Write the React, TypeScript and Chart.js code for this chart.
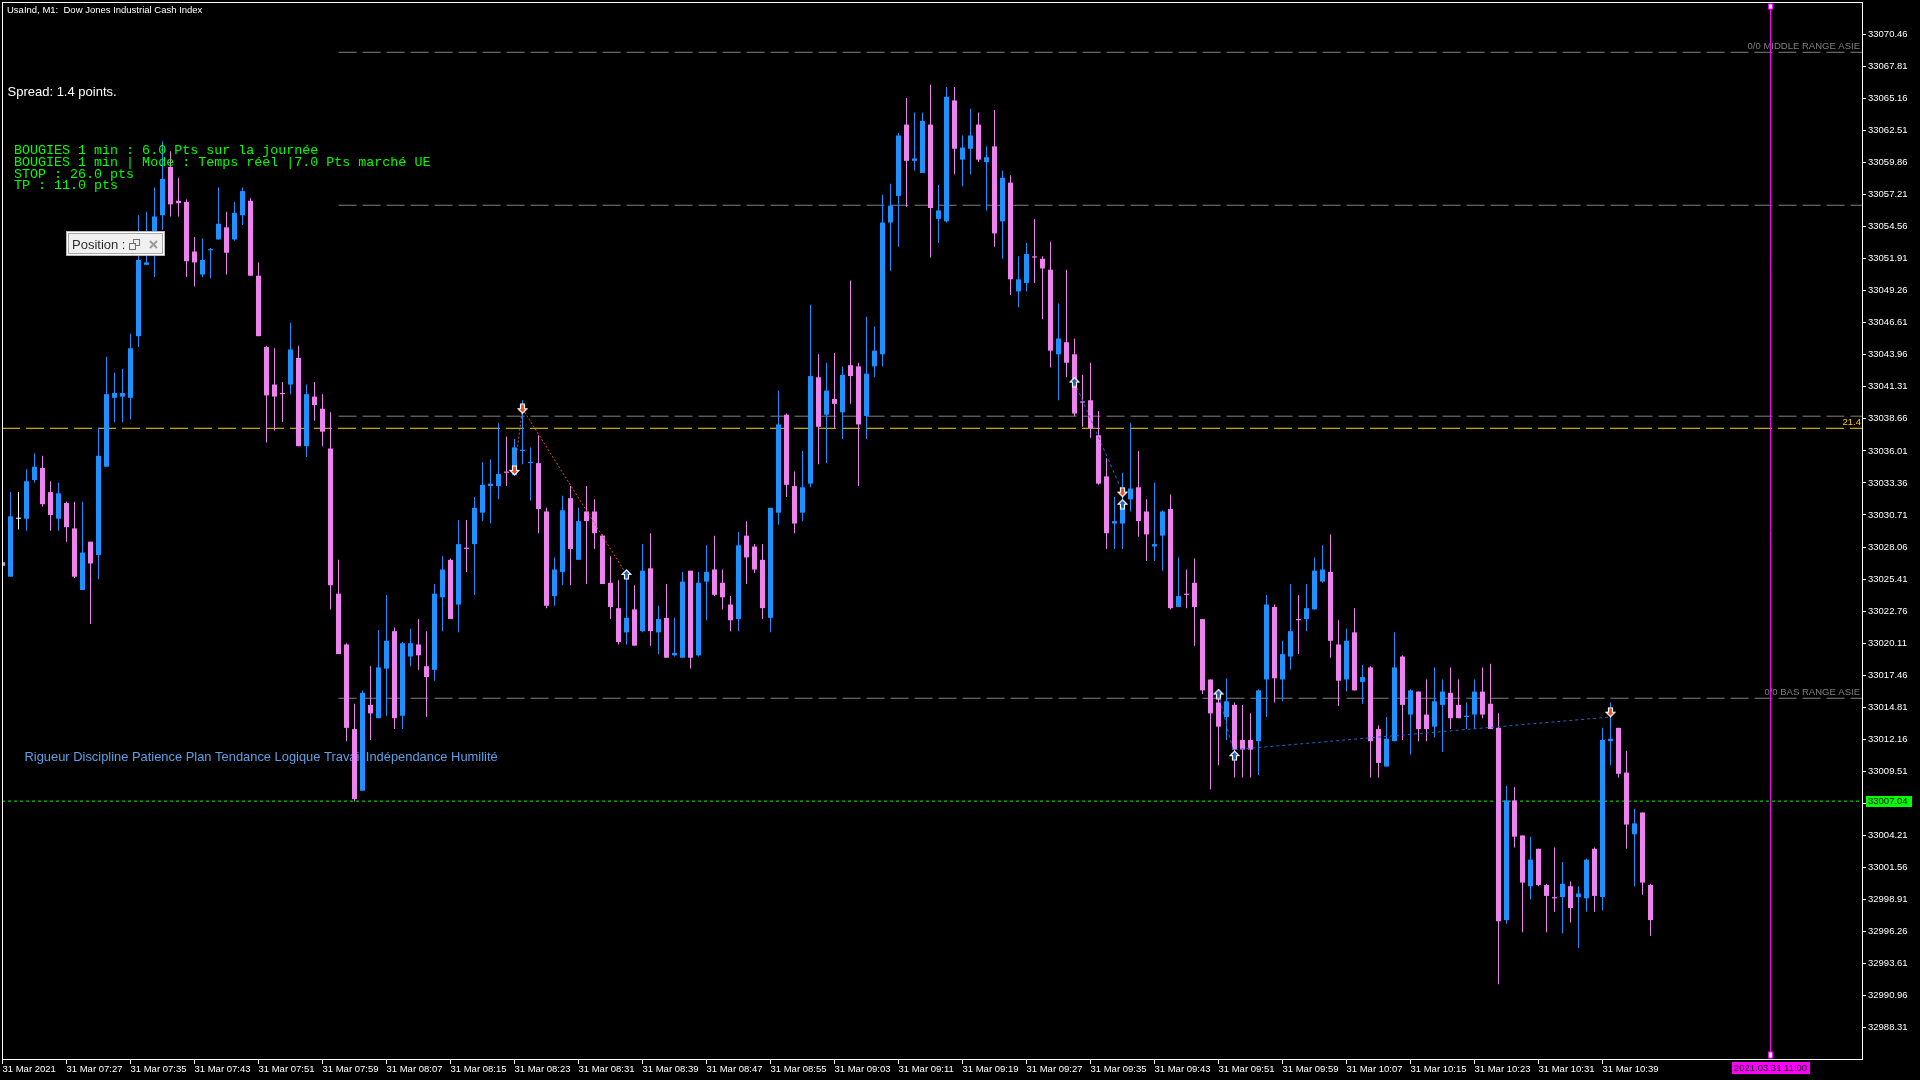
import React, { useEffect, useRef } from "react";
import { Chart, registerables } from "chart.js";

Chart.register(...registerables);

// ---- OHLC, one bar per minute, 31 Mar 2021 07:19 -> 10:45 (bar index 0..206) ----
const opens = [
  33026.8, 33025.6, 33030.4, 33030.4, 33033.6, 33034.6, 33032.6, 33030.4, 33031.7, 33029.6,
  33024.5, 33028.5, 33027.4, 33034.7, 33040.4, 33040.5, 33040.4, 33045.5, 33051.4, 33053.7,
  33055.5, 33059.5, 33056.7, 33056.6, 33052.5, 33050.6, 33052.6, 33053.5, 33054.5, 33053.5,
  33055.5, 33056.7, 33050.5, 33044.6, 33041.5, 33040.8, 33041.5, 33043.7, 33036.4, 33040.5,
  33039.5, 33036.2, 33024.2, 33020.0, 33013.0, 33007.9, 33015.0, 33013.9, 33018.0, 33021.1,
  33014.1, 33019.0, 33020.0, 33018.2, 33017.9, 33023.9, 33027.0, 33023.3, 33028.0, 33028.3,
  33030.9, 33033.1, 33033.1, 33034.3, 33034.0, 33036.0, 33035.0, 33035.0, 33031.0, 33024.0,
  33026.0, 33032.1, 33027.0, 33031.0, 33031.0, 33029.0, 33025.1, 33023.0, 33021.0, 33022.9,
  33021.1, 33026.3, 33021.0, 33022.2, 33019.1, 33018.9, 33026.1, 33019.1, 33025.2, 33026.2,
  33025.1, 33023.3, 33022.1, 33029.0, 33028.1, 33027.0, 33022.2, 33030.9, 33039.0, 33033.1,
  33030.9, 33033.3, 33042.1, 33039.0, 33040.3, 33039.2, 33043.1, 33043.0, 33038.9, 33043.0,
  33044.0, 33054.9, 33057.1, 33063.0, 33060.0, 33059.0, 33063.0, 33055.2, 33055.0, 33065.0,
  33060.1, 33061.0, 33063.0, 33059.9, 33061.2, 33055.0, 33058.2, 33049.2, 33049.9, 33052.1,
  33051.9, 33051.0, 33044.0, 33045.0, 33044.0, 33040.1, 33040.2, 33037.3, 33033.9, 33030.0,
  33030.0, 33032.0, 33033.0, 33031.0, 33028.1, 33029.0, 33031.2, 33023.1, 33024.2, 33025.1,
  33022.1, 33017.1, 33015.2, 33014.0, 33015.0, 33012.1, 33012.1, 33012.0, 33017.1, 33023.1,
  33017.1, 33019.0, 33022.1, 33022.1, 33022.9, 33025.2, 33026.0, 33020.0, 33017.1, 33021.0,
  33016.9, 33018.1, 33013.0, 33009.9, 33012.0, 33019.0, 33014.2, 33016.1, 33014.2, 33013.2,
  33015.0, 33016.0, 33015.0, 33014.0, 33014.2, 33016.1, 33015.1, 33013.1, 32997.2, 33007.1,
  33004.2, 33000.0, 33003.1, 33000.1, 32999.1, 32999.1, 33000.0, 32999.1, 32999.0, 33003.1,
  32999.1, 33012.0, 33013.1, 33009.4, 33004.3, 33006.1, 33000.1,
];
const highs = [
  33026.9, 33032.6, 33032.6, 33034.5, 33035.8, 33035.6, 33033.5, 33033.4, 33031.8, 33031.8,
  33031.8, 33028.5, 33037.9, 33043.8, 33042.5, 33042.8, 33045.7, 33055.5, 33055.8, 33057.8,
  33061.6, 33060.8, 33058.6, 33056.8, 33053.7, 33053.6, 33052.8, 33057.8, 33055.8, 33056.6,
  33057.8, 33056.9, 33051.6, 33044.7, 33044.5, 33041.7, 33046.6, 33044.7, 33041.5, 33041.7,
  33040.7, 33039.2, 33027.0, 33020.1, 33015.1, 33016.2, 33018.2, 33021.2, 33024.1, 33021.4,
  33020.2, 33021.3, 33022.1, 33021.1, 33025.0, 33027.3, 33027.1, 33030.3, 33030.3, 33032.2,
  33035.1, 33035.3, 33038.3, 33037.2, 33037.0, 33040.2, 33036.3, 33037.3, 33031.3, 33027.2,
  33032.3, 33033.1, 33031.3, 33033.1, 33032.0, 33029.1, 33027.3, 33025.3, 33025.6, 33024.9,
  33028.3, 33029.2, 33023.2, 33025.0, 33022.2, 33026.0, 33026.1, 33026.0, 33028.2, 33029.0,
  33026.2, 33024.0, 33029.3, 33030.2, 33028.3, 33028.3, 33031.3, 33041.0, 33039.1, 33034.3,
  33036.0, 33048.1, 33044.0, 33043.3, 33044.1, 33043.0, 33050.1, 33043.3, 33047.1, 33046.3,
  33057.2, 33058.1, 33062.3, 33065.2, 33064.0, 33064.0, 33066.3, 33058.0, 33066.1, 33066.1,
  33062.1, 33064.3, 33064.0, 33061.2, 33064.2, 33059.2, 33058.8, 33052.1, 33053.2, 33055.2,
  33052.1, 33053.3, 33048.2, 33051.0, 33045.3, 33042.3, 33043.3, 33039.3, 33035.4, 33032.2,
  33034.2, 33038.3, 33036.0, 33032.0, 33033.4, 33031.1, 33032.4, 33027.2, 33026.2, 33027.1,
  33022.1, 33017.1, 33016.3, 33017.2, 33015.2, 33015.0, 33014.3, 33016.3, 33024.1, 33023.3,
  33020.3, 33025.0, 33024.1, 33025.0, 33027.2, 33028.2, 33029.1, 33022.0, 33021.3, 33023.0,
  33018.3, 33018.2, 33013.3, 33014.0, 33021.0, 33019.1, 33016.3, 33016.1, 33017.1, 33018.1,
  33017.1, 33018.1, 33017.1, 33015.2, 33017.1, 33018.1, 33018.4, 33014.3, 33008.3, 33008.2,
  33004.2, 33004.1, 33003.1, 33000.2, 33003.2, 33002.0, 33000.4, 33000.0, 33002.3, 33003.2,
  33013.1, 33015.2, 33013.1, 33011.2, 33006.4, 33006.1, 33000.2,
];
const lows = [
  33026.4, 33025.6, 33029.5, 33029.4, 33033.4, 33031.4, 33029.4, 33029.4, 33028.5, 33025.5,
  33024.5, 33021.7, 33025.4, 33034.7, 33038.4, 33038.4, 33038.6, 33044.6, 33051.4, 33050.4,
  33054.3, 33055.4, 33055.4, 33050.4, 33049.6, 33050.4, 33050.3, 33053.5, 33050.6, 33053.4,
  33054.7, 33050.5, 33045.5, 33036.7, 33037.7, 33038.4, 33040.7, 33036.4, 33035.5, 33038.5,
  33036.4, 33022.9, 33019.2, 33012.0, 33007.0, 33007.9, 33012.1, 33013.9, 33014.1, 33013.0,
  33013.0, 33018.2, 33017.9, 33014.0, 33017.0, 33021.1, 33022.1, 33021.0, 33026.0, 33024.1,
  33030.2, 33030.0, 33032.0, 33033.1, 33034.0, 33034.9, 33031.9, 33029.2, 33023.0, 33023.2,
  33024.9, 33024.9, 33027.0, 33025.0, 33027.9, 33025.0, 33022.1, 33020.0, 33020.0, 33019.9,
  33021.0, 33019.9, 33019.2, 33018.9, 33019.0, 33018.9, 33018.0, 33019.0, 33022.0, 33024.0,
  33022.9, 33021.1, 33021.1, 33025.0, 33025.9, 33022.1, 33021.0, 33029.9, 33032.2, 33029.2,
  33030.2, 33033.0, 33034.9, 33035.0, 33037.9, 33037.0, 33039.9, 33033.1, 33037.0, 33042.1,
  33043.0, 33050.9, 33052.9, 33056.2, 33059.2, 33059.0, 33052.0, 33053.2, 33054.9, 33058.9,
  33057.9, 33058.9, 33059.9, 33055.9, 33052.9, 33051.9, 33048.9, 33047.9, 33049.2, 33049.9,
  33046.9, 33042.9, 33040.2, 33042.1, 33038.9, 33038.0, 33037.1, 33033.2, 33027.9, 33027.9,
  33027.9, 33031.0, 33028.9, 33026.9, 33026.9, 33026.1, 33022.9, 33023.1, 33023.0, 33019.9,
  33015.9, 33008.0, 33010.0, 33012.1, 33009.0, 33009.0, 33009.0, 33009.2, 33014.0, 33015.2,
  33015.3, 33017.9, 33019.2, 33021.1, 33022.9, 33025.1, 33018.9, 33014.9, 33016.1, 33016.2,
  33015.1, 33009.0, 33009.0, 33009.9, 33012.0, 33012.1, 33010.9, 33012.0, 33012.0, 33012.3,
  33011.1, 33013.0, 33013.9, 33013.0, 33013.0, 33013.9, 33013.0, 32991.9, 32996.9, 33003.2,
  32996.2, 32998.9, 33000.0, 32996.2, 32997.9, 32996.1, 32997.0, 32994.9, 32997.9, 32997.9,
  32998.0, 33010.0, 33009.0, 33003.1, 33000.0, 32999.3, 32995.9,
];
const closes = [
  33026.5, 33030.6, 33030.4, 33033.5, 33034.7, 33031.6, 33030.7, 33032.5, 33029.7, 33025.6,
  33027.6, 33026.7, 33035.6, 33040.7, 33040.8, 33040.8, 33044.5, 33051.8, 33051.6, 33055.4,
  33058.5, 33056.4, 33056.5, 33051.7, 33051.6, 33051.8, 33052.7, 33054.8, 33052.4, 33055.7,
  33057.5, 33050.5, 33045.5, 33040.6, 33040.5, 33040.7, 33044.4, 33036.4, 33040.7, 33039.8,
  33037.6, 33024.9, 33019.2, 33013.1, 33007.2, 33016.0, 33014.3, 33018.1, 33020.3, 33013.9,
  33020.1, 33020.1, 33019.1, 33017.3, 33024.2, 33026.2, 33022.1, 33028.3, 33027.9, 33031.3,
  33033.2, 33033.3, 33034.1, 33034.2, 33036.3, 33036.1, 33035.1, 33031.2, 33023.2, 33026.2,
  33031.1, 33027.9, 33030.2, 33030.2, 33029.2, 33025.0, 33023.1, 33020.2, 33022.2, 33019.9,
  33026.1, 33021.1, 33022.1, 33018.9, 33019.3, 33025.2, 33018.9, 33025.1, 33026.0, 33024.1,
  33023.9, 33022.0, 33028.2, 33027.2, 33026.2, 33023.0, 33031.3, 33038.2, 33033.2, 33030.0,
  33033.0, 33042.2, 33038.0, 33041.0, 33039.9, 33042.3, 33042.2, 33038.2, 33042.4, 33044.3,
  33054.9, 33056.3, 33062.1, 33060.0, 33060.2, 33063.3, 33056.1, 33055.9, 33065.3, 33061.0,
  33061.1, 33062.1, 33060.1, 33060.3, 33054.0, 33058.6, 33050.2, 33050.2, 33052.3, 33052.0,
  33051.1, 33044.3, 33045.3, 33043.3, 33039.1, 33040.0, 33037.9, 33033.3, 33029.2, 33030.2,
  33031.4, 33032.9, 33030.2, 33029.1, 33028.3, 33031.0, 33023.0, 33024.0, 33024.1, 33023.1,
  33016.2, 33014.3, 33013.2, 33015.3, 33011.3, 33011.3, 33011.3, 33016.2, 33023.3, 33017.2,
  33019.2, 33021.1, 33022.0, 33023.0, 33026.1, 33026.2, 33020.3, 33017.0, 33020.3, 33016.2,
  33017.3, 33012.0, 33010.2, 33012.2, 33018.1, 33015.0, 33016.2, 33013.0, 33013.0, 33015.3,
  33016.1, 33013.9, 33013.9, 33014.1, 33016.1, 33014.2, 33013.0, 32997.1, 33007.1, 33004.1,
  33000.3, 33002.2, 33000.1, 32999.2, 32999.0, 33000.2, 32998.2, 32999.4, 33002.2, 32999.2,
  33012.1, 33012.2, 33009.3, 33005.1, 33005.2, 33000.3, 32997.2,
];

// ---- time axis labels (bar index of each label) ----
const xTickBars = [0, 8, 16, 24, 32, 40, 48, 56, 64, 72, 80, 88, 96, 104, 112, 120, 128, 136, 144, 152, 160, 168, 176, 184, 192, 200];
const xTickLabels = [
  "31 Mar 2021", "31 Mar 07:27", "31 Mar 07:35", "31 Mar 07:43", "31 Mar 07:51", "31 Mar 07:59",
  "31 Mar 08:07", "31 Mar 08:15", "31 Mar 08:23", "31 Mar 08:31", "31 Mar 08:39", "31 Mar 08:47",
  "31 Mar 08:55", "31 Mar 09:03", "31 Mar 09:11", "31 Mar 09:19", "31 Mar 09:27", "31 Mar 09:35",
  "31 Mar 09:43", "31 Mar 09:51", "31 Mar 09:59", "31 Mar 10:07", "31 Mar 10:15", "31 Mar 10:23",
  "31 Mar 10:31", "31 Mar 10:39",
];

// ---- price axis labels ----
const yTicks = [
  33070.46, 33067.81, 33065.16, 33062.51, 33059.86, 33057.21, 33054.56, 33051.91,
  33049.26, 33046.61, 33043.96, 33041.31, 33038.66, 33036.01, 33033.36, 33030.71,
  33028.06, 33025.41, 33022.76, 33020.11, 33017.46, 33014.81, 33012.16, 33009.51,
  33006.86, 33004.21, 33001.56, 32998.91, 32996.26, 32993.61, 32990.96, 32988.31,
];

// ---- view range ----
const xView = [-0.0625, 232.4375];
const yView = [32985.71, 33073.14];

// ---- objects ----
const asiaLevels = [33068.98, 33056.33, 33038.88, 33015.55];
const asiaStartBar = 42;
const asiaLabels = ["0/0 MIDDLE RANGE ASIE", "0/0 BAS RANGE ASIE"];
const goldLevel = 33037.88;
const goldLabel = "21.4";
const bidLevel = 33007.04;
const vlineBar = 221;
const vlineLabel = "2021.03.31 11:00";

const sellArrowBars = [64, 65, 140, 201];
const sellArrowPrices = [33034.4, 33039.5, 33032.6, 33014.4];
const buyArrowBars = [78, 134, 140, 152, 154];
const buyArrowPrices = [33025.8, 33041.7, 33031.6, 33015.9, 33010.8];

const redTradeBars = [[64, 65], [65, 78]];
const redTradePrices = [[33034.4, 33039.5], [33039.5, 33025.8]];
const blueTradeBars = [[134, 140], [152, 154], [154, 201]];
const blueTradePrices = [[33041.7, 33032.6], [33015.9, 33010.8], [33011.3, 33014.0]];

const titleText = "UsaInd, M1:  Dow Jones Industrial Cash Index";
const spreadText = "Spread: 1.4 points.";
const commentLines = [
  "BOUGIES 1 min : 6.0 Pts sur la journée",
  "BOUGIES 1 min | Mode : Temps réel |7.0 Pts marché UE",
  "STOP : 26.0 pts",
  "TP : 11.0 pts",
];
const mottoText = "Rigueur Discipline Patience Plan Tendance Logique Travail Indépendance Humilité";
const panelText = "Position :";

// ---- styles ----
const UP = "#1E90FF";
const DOWN = "#EE82EE";
const DOJI = "#FFFFFF";
const GOLD = "#FFD000";
const GRAY = "#808080";
const LIME = "#00FF00";
const MAGENTA = "#FF00FF";
const SELL = "#EE4B22";
const BUY = "#1C5FBA";
const SANS = '"Liberation Sans", Arial, sans-serif';
const MONO = '"Liberation Mono", "Courier New", monospace';

function makeArrow(up: boolean, fill: string): HTMLCanvasElement {
  const c = document.createElement("canvas");
  c.width = 11;
  c.height = 11;
  const g = c.getContext("2d") as CanvasRenderingContext2D;
  const pts = [[5.5, 1], [10, 5.5], [7.5, 5.5], [7.5, 10], [3.5, 10], [3.5, 5.5], [1, 5.5]];
  g.beginPath();
  pts.forEach(([px, py], k) => {
    const yy = up ? py : 11 - py;
    if (k === 0) g.moveTo(px, yy);
    else g.lineTo(px, yy);
  });
  g.closePath();
  g.fillStyle = fill;
  g.fill();
  g.strokeStyle = "#FFFFFF";
  g.lineWidth = 1.2;
  g.stroke();
  return c;
}

const overlay = {
  id: "mt4overlay",
  beforeDatasetsDraw(chart: any) {
    const { ctx, scales } = chart;
    const y = scales.y;
    ctx.save();
    ctx.textBaseline = "alphabetic";
    // motto (behind the candles)
    ctx.font = `12.9px ${SANS}`;
    ctx.fillStyle = "#5AA0E6";
    ctx.textAlign = "left";
    ctx.fillText(mottoText, 24.5, 761);
    // range labels
    ctx.font = `9.5px ${SANS}`;
    ctx.textAlign = "right";
    ctx.fillStyle = GRAY;
    ctx.fillText(asiaLabels[0], 1860, y.getPixelForValue(asiaLevels[0]) - 3);
    ctx.fillText(asiaLabels[1], 1860, y.getPixelForValue(asiaLevels[3]) - 3);
    ctx.fillStyle = GOLD;
    ctx.fillText(goldLabel, 1861, y.getPixelForValue(goldLevel) - 3);
    ctx.restore();
  },
  afterDatasetsDraw(chart: any) {
    const { ctx } = chart;
    ctx.save();
    ctx.textAlign = "left";
    ctx.textBaseline = "alphabetic";
    ctx.fillStyle = "#FFFFFF";
    ctx.font = `9.5px ${SANS}`;
    ctx.fillText(titleText, 7, 12.5);
    ctx.font = `13px ${SANS}`;
    ctx.fillText(spreadText, 7.5, 96);
    ctx.font = `13.35px ${MONO}`;
    ctx.fillStyle = LIME;
    commentLines.forEach((t, k) => ctx.fillText(t, 14, 154 + k * 11.83));

    // "Position" panel
    ctx.fillStyle = "#F0F0F0";
    ctx.fillRect(66, 231, 99, 25);
    ctx.lineWidth = 1;
    ctx.strokeStyle = "#B8B8B8";
    ctx.strokeRect(66.5, 231.5, 98, 24);
    ctx.strokeStyle = "#FFFFFF";
    ctx.strokeRect(67.5, 232.5, 96, 22);
    ctx.strokeStyle = "#A8A8A8";
    ctx.strokeRect(68.5, 233.5, 94, 20);
    ctx.fillStyle = "#2E2E2E";
    ctx.font = `13px ${SANS}`;
    ctx.fillText(panelText, 72, 249.3);
    ctx.strokeStyle = "#6E6E6E";
    ctx.strokeRect(133.5, 239.5, 6, 6);
    ctx.fillStyle = "#F0F0F0";
    ctx.fillRect(129, 243, 7, 7);
    ctx.strokeRect(129.5, 243.5, 6, 6);
    ctx.strokeStyle = "#9A9A9A";
    ctx.lineWidth = 2;
    ctx.beginPath();
    ctx.moveTo(150, 241);
    ctx.lineTo(157, 248);
    ctx.moveTo(157, 241);
    ctx.lineTo(150, 248);
    ctx.stroke();
    ctx.restore();
  },
  afterDraw(chart: any) {
    const { ctx, chartArea: a, scales } = chart;
    const x = scales.x;
    const y = scales.y;
    ctx.save();
    ctx.strokeStyle = "#FFFFFF";
    ctx.lineWidth = 1;
    ctx.strokeRect(a.left + 0.5, a.top + 0.5, a.right - a.left, a.bottom - a.top);

    // bid label on the price axis
    const gy = y.getPixelForValue(bidLevel);
    ctx.fillStyle = LIME;
    ctx.fillRect(a.right + 4, Math.round(gy) - 5, 46, 11);
    ctx.fillStyle = "#000000";
    ctx.font = `9.5px ${SANS}`;
    ctx.textAlign = "left";
    ctx.textBaseline = "middle";
    ctx.fillText(bidLevel.toFixed(2), a.right + 6, Math.round(gy) + 0.5);

    // vertical line markers and time label
    const vx = x.getPixelForValue(vlineBar);
    ctx.fillStyle = "#FFFFFF";
    ctx.strokeStyle = MAGENTA;
    ctx.fillRect(vx - 2, a.bottom - 7, 4, 6);
    ctx.strokeRect(vx - 2, a.bottom - 7, 4, 6);
    ctx.fillRect(vx - 2, a.top + 2, 4, 5);
    ctx.strokeRect(vx - 2, a.top + 2, 4, 5);
    ctx.fillStyle = MAGENTA;
    ctx.fillRect(Math.round(vx) - 39, a.bottom + 3, 78, 12);
    ctx.fillStyle = "#000000";
    ctx.textAlign = "center";
    ctx.fillText(vlineLabel, vx, a.bottom + 9.5);
    ctx.restore();
  },
};

export default function App() {
  const ref = useRef<HTMLCanvasElement>(null);

  useEffect(() => {
    const canvas = ref.current as HTMLCanvasElement;
    const upArrow = makeArrow(true, BUY);
    const downArrow = makeArrow(false, SELL);
    const colors = opens.map((o, i) => (closes[i] > o ? UP : closes[i] < o ? DOWN : DOJI));

    const line = (pts: { x: number; y: number }[], color: string, dash: number[], order: number) => ({
      type: "line",
      data: pts,
      borderColor: color,
      borderWidth: 1,
      borderDash: dash,
      pointRadius: 0,
      pointHoverRadius: 0,
      fill: false,
      tension: 0,
      order,
    });

    const datasets: any[] = [
      {
        type: "line",
        data: sellArrowBars.map((b, k) => ({ x: b, y: sellArrowPrices[k] })),
        showLine: false,
        pointStyle: downArrow,
        pointRadius: 5,
        order: 0,
      },
      {
        type: "line",
        data: buyArrowBars.map((b, k) => ({ x: b, y: buyArrowPrices[k] })),
        showLine: false,
        pointStyle: upArrow,
        pointRadius: 5,
        order: 0,
      },
      ...redTradeBars.map((bs, k) =>
        line(bs.map((b, j) => ({ x: b, y: redTradePrices[k][j] })), "#E0502A", [2, 2], 1)
      ),
      ...blueTradeBars.map((bs, k) =>
        line(bs.map((b, j) => ({ x: b, y: blueTradePrices[k][j] })), "#1E66C8", [3, 3], 1)
      ),
      {
        type: "bar",
        data: opens.map((o, i) => ({ x: i, y: [o, closes[i]] })),
        backgroundColor: colors,
        borderWidth: 0,
        barThickness: 5,
        minBarLength: 1,
        grouped: false,
        inflateAmount: 0,
        order: 5,
      },
      {
        type: "bar",
        data: lows.map((l, i) => ({ x: i, y: [l, highs[i]] })),
        backgroundColor: colors,
        borderWidth: 0,
        barThickness: 1,
        grouped: false,
        inflateAmount: 0,
        order: 6,
      },
      line([{ x: vlineBar, y: yView[0] }, { x: vlineBar, y: yView[1] }], MAGENTA, [], 7),
      line([{ x: xView[0], y: bidLevel }, { x: xView[1], y: bidLevel }], LIME, [3, 3], 8),
      line([{ x: xView[0], y: goldLevel }, { x: xView[1], y: goldLevel }], GOLD, [18, 6], 8),
      ...asiaLevels.map((lv) => line([{ x: asiaStartBar, y: lv }, { x: xView[1], y: lv }], GRAY, [18, 6], 8)),
    ];

    const tickFont = { family: SANS, size: 9.5 };
    const noPad = (s: any) => {
      s.paddingTop = 0;
      s.paddingBottom = 0;
      s.paddingLeft = 0;
      s.paddingRight = 0;
    };

    const chart = new Chart(canvas, {
      type: "bar",
      data: { datasets },
      options: {
        responsive: false,
        animation: false,
        devicePixelRatio: 1,
        events: [],
        layout: { autoPadding: false, padding: { left: 2, top: 2, right: 0, bottom: 0 } },
        plugins: {
          legend: { display: false },
          tooltip: { enabled: false },
          title: { display: false },
        },
        scales: {
          x: {
            type: "linear",
            position: "bottom",
            min: xView[0],
            max: xView[1],
            bounds: "data",
            offset: false,
            grid: { display: true, drawOnChartArea: false, drawTicks: true, tickLength: 5, color: "#FFFFFF", offset: false },
            border: { display: false },
            ticks: {
              color: "#FFFFFF",
              font: tickFont,
              padding: 0,
              align: "start",
              maxRotation: 0,
              minRotation: 0,
              autoSkip: false,
              callback: (_v: any, i: number) => xTickLabels[i] ?? "",
            },
            afterBuildTicks: (s: any) => {
              s.ticks = xTickBars.map((v) => ({ value: v }));
            },
            afterFit: (s: any) => {
              s.height = 21;
              noPad(s);
            },
          },
          y: {
            type: "linear",
            position: "right",
            min: yView[0],
            max: yView[1],
            bounds: "data",
            beginAtZero: false,
            grid: { display: true, drawOnChartArea: false, drawTicks: true, tickLength: 4, color: "#FFFFFF" },
            border: { display: false },
            ticks: {
              color: "#FFFFFF",
              font: tickFont,
              padding: 2,
              autoSkip: false,
              callback: (v: any) => Number(v).toFixed(2),
            },
            afterBuildTicks: (s: any) => {
              s.ticks = yTicks.map((v) => ({ value: v }));
            },
            afterFit: (s: any) => {
              s.width = 58;
              noPad(s);
            },
          },
        },
      } as any,
      plugins: [overlay],
    } as any);

    return () => chart.destroy();
  }, []);

  return (
    <div style={{ position: "fixed", left: 0, top: 0, width: 1920, height: 1080, background: "#000000", overflow: "hidden" }}>
      <canvas ref={ref} width={1920} height={1080} style={{ display: "block", width: 1920, height: 1080 }} />
    </div>
  );
}
